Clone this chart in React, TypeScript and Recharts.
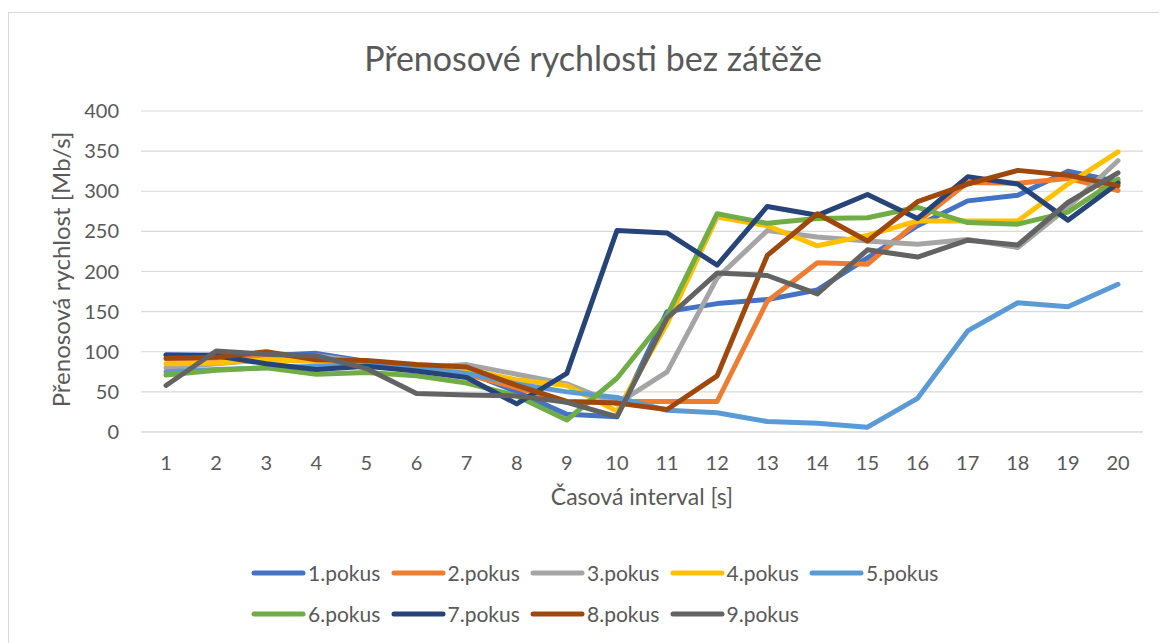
import React from 'react';
import { LineChart, Line, XAxis, YAxis, CartesianGrid, Label } from 'recharts';

const intervals = ['1', '2', '3', '4', '5', '6', '7', '8', '9', '10', '11', '12', '13', '14', '15', '16', '17', '18', '19', '20'];

const pokus1 = [96, 96, 95, 98, 88, 82, 75, 50, 22, 19, 150, 160, 165, 177, 217, 257, 288, 295, 325, 312];
const pokus2 = [91, 92, 93, 90, 86, 82, 72, 55, 37, 38, 38, 38, 163, 211, 209, 262, 311, 310, 316, 301];
const pokus3 = [80, 85, 90, 95, 87, 80, 84, 72, 60, 35, 75, 192, 251, 243, 238, 234, 240, 230, 280, 338];
const pokus4 = [85, 86, 90, 88, 86, 80, 78, 65, 58, 26, 135, 268, 257, 232, 245, 263, 263, 263, 309, 349];
const pokus5 = [75, 78, 80, 82, 84, 80, 73, 60, 50, 43, 27, 24, 13, 11, 6, 42, 126, 161, 156, 184];
const pokus6 = [71, 77, 80, 72, 74, 70, 61, 45, 15, 67, 145, 272, 260, 266, 267, 280, 261, 259, 274, 315];
const pokus7 = [96, 95, 85, 78, 82, 76, 68, 35, 73, 251, 248, 208, 281, 270, 296, 266, 318, 309, 264, 310];
const pokus8 = [92, 93, 100, 90, 89, 84, 81, 58, 38, 36, 28, 70, 220, 272, 238, 287, 309, 326, 320, 307];
const pokus9 = [58, 101, 97, 95, 79, 48, 46, 45, 37, 19, 142, 198, 195, 172, 227, 218, 239, 233, 286, 323];

const yTicks = [0, 50, 100, 150, 200, 250, 300, 350, 400];

const SERIES = [
  { key: 'p1', name: '1.pokus', values: pokus1, color: '#4472C4' },
  { key: 'p2', name: '2.pokus', values: pokus2, color: '#ED7D31' },
  { key: 'p3', name: '3.pokus', values: pokus3, color: '#A5A5A5' },
  { key: 'p4', name: '4.pokus', values: pokus4, color: '#FFC000' },
  { key: 'p5', name: '5.pokus', values: pokus5, color: '#5B9BD5' },
  { key: 'p6', name: '6.pokus', values: pokus6, color: '#70AD47' },
  { key: 'p7', name: '7.pokus', values: pokus7, color: '#264478' },
  { key: 'p8', name: '8.pokus', values: pokus8, color: '#9E480E' },
  { key: 'p9', name: '9.pokus', values: pokus9, color: '#636363' },
];

const data = intervals.map((t, i) => {
  const row: Record<string, any> = { t };
  SERIES.forEach(s => {
    row[s.key] = s.values[i];
  });
  return row;
});

const FONT = 'Lato, "Liberation Sans", sans-serif';
const TEXT = '#595959';

export default function App() {
  return (
    <div
      style={{
        position: 'relative',
        width: 1150,
        height: 640,
        marginTop: 4,
        border: '1px solid #d9d9d9',
        background: '#fff',
        fontFamily: FONT,
      }}
    >
      <div
        style={{
          position: 'absolute',
          top: 27,
          left: 18,
          right: 0,
          textAlign: 'center',
          fontSize: 34,
          lineHeight: '36px',
          color: TEXT,
        }}
      >
        Přenosové rychlosti bez zátěže
      </div>

      <LineChart width={1150} height={628} data={data} margin={{ top: 98, right: 16, left: 40, bottom: 129 }}>
        <CartesianGrid vertical={false} stroke="#d9d9d9" strokeWidth={1.2} />
        <XAxis
          dataKey="t"
          height={80}
          padding={{ left: 25, right: 25 }}
          axisLine={{ stroke: '#d9d9d9' }}
          tickLine={false}
          tickMargin={18}
          interval={0}
          tick={{ fill: TEXT, fontSize: 20, fontFamily: FONT }}
        >
          <Label
            content={({ viewBox }: any) => (
              <text
                x={viewBox.x + viewBox.width / 2}
                y={viewBox.y + 73}
                textAnchor="middle"
                fill={TEXT}
                fontSize={23}
                fontFamily={FONT}
              >
                Časová interval [s]
              </text>
            )}
          />
        </XAxis>
        <YAxis
          width={92}
          domain={[0, 400]}
          ticks={yTicks}
          axisLine={false}
          tickLine={false}
          tickMargin={16}
          tick={{ fill: TEXT, fontSize: 20, fontFamily: FONT }}
        >
          <Label
            content={({ viewBox }: any) => {
              const cx = viewBox.x + 11;
              const cy = viewBox.y + viewBox.height / 2 - 2;
              return (
                <text
                  x={cx}
                  y={cy}
                  transform={`rotate(-90 ${cx} ${cy})`}
                  textAnchor="middle"
                  dominantBaseline="central"
                  fill={TEXT}
                  fontSize={24}
                  fontFamily={FONT}
                >
                  Přenosová rychlost [Mb/s]
                </text>
              );
            }}
          />
        </YAxis>
        {SERIES.map(s => (
          <Line
            key={s.key}
            type="linear"
            dataKey={s.key}
            name={s.name}
            stroke={s.color}
            strokeWidth={5}
            strokeLinecap="round"
            strokeLinejoin="round"
            dot={false}
            activeDot={false}
            isAnimationActive={false}
          />
        ))}
      </LineChart>

      {/* legend, Excel-style: fixed columns, two rows */}
      <div
        style={{
          position: 'absolute',
          left: 242,
          top: 539,
          width: 700,
          display: 'grid',
          gridTemplateColumns: 'repeat(5, 139.5px)',
          gridAutoRows: '41px',
        }}
      >
        {SERIES.map(s => (
          <div key={s.key} style={{ display: 'flex', alignItems: 'center' }}>
            <svg width={55} height={10} style={{ flex: 'none' }}>
              <line x1={3} y1={5} x2={52} y2={5} stroke={s.color} strokeWidth={5} strokeLinecap="round" />
            </svg>
            <span style={{ fontSize: 21, color: TEXT, marginLeft: 2 }}>{s.name}</span>
          </div>
        ))}
      </div>
    </div>
  );
}
